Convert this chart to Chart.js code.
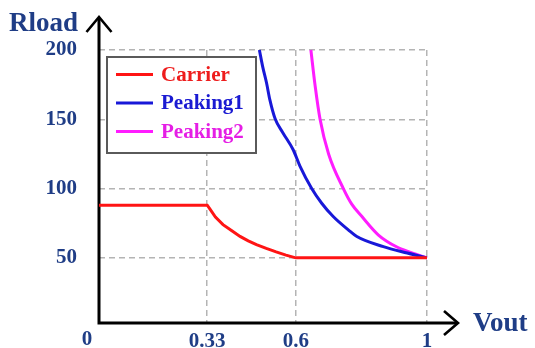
<!DOCTYPE html>
<html>
<head>
<meta charset="utf-8">
<script src="https://cdn.jsdelivr.net/npm/chart.js@4/dist/chart.umd.min.js"></script>
<style>
  html, body { margin: 0; padding: 0; background: #ffffff; overflow: hidden; }
  #wrap { width: 535px; height: 348px; }
</style>
</head>
<body>
<div id="wrap"><canvas id="c" width="535" height="348"></canvas></div>
<script>
// Normalized output voltage ticks and load resistance ticks
const xTicks = [0.33, 0.6, 1];
const yTicks = [50, 100, 150, 200];

// Carrier load trajectory
const carrierX = [0, 0.33, 0.34, 0.355, 0.378, 0.405, 0.43, 0.455, 0.48, 0.51, 0.54, 0.57, 0.6, 1];
const carrierY = [88, 88, 84.6, 79.5, 74, 69.5, 65.5, 62.3, 59.5, 56.8, 54.3, 52, 50, 50];

// Peaking amplifier 1 load trajectory
const peaking1X = [0.489, 0.499, 0.511, 0.521, 0.537, 0.56, 0.592, 0.613, 0.648, 0.679, 0.714, 0.76, 0.786, 0.867, 0.94, 1];
const peaking1Y = [200, 188, 176, 164, 150.4, 140.5, 128, 116, 100.2, 89.4, 79.8, 70.2, 65.4, 58.1, 53.5, 50];

// Peaking amplifier 2 load trajectory
const peaking2X = [0.646, 0.659, 0.674, 0.70, 0.745, 0.77, 0.801, 0.852, 0.907, 0.95, 1];
const peaking2Y = [200, 174, 150, 125, 100, 89, 80, 66.5, 58, 54, 50];

const seriesNames = ['Carrier', 'Peaking1', 'Peaking2'];
const lineColors = ['#ff1414', '#1818d8', '#ff1cff'];
const textColors = ['#ee1c1c', '#1a1ad2', '#e51ee5'];

const NAVY = '#1f3d86';
const SERIF = '"Liberation Serif", "Times New Roman", serif';

const toPts = (xs, ys) => xs.map((x, i) => ({ x: x, y: ys[i] }));

// Axes with arrowheads, axis titles, the origin label and the framed legend
const decorations = {
  id: 'decorations',
  beforeDatasetsDraw(chart) {
    const { ctx, scales: { x, y } } = chart;
    const x0 = x.getPixelForValue(0);
    const y0 = y.bottom;
    ctx.save();
    ctx.strokeStyle = '#000000';
    ctx.lineWidth = 3;
    ctx.lineCap = 'butt';
    ctx.beginPath();
    ctx.moveTo(x0, y0 + 1.5);
    ctx.lineTo(x0, 18);
    ctx.moveTo(x0 - 1.5, y0);
    ctx.lineTo(456, y0);
    ctx.stroke();
    // arrowheads
    ctx.lineWidth = 2.6;
    ctx.lineJoin = 'miter';
    ctx.beginPath();
    ctx.moveTo(x0 - 12.5, 32);
    ctx.lineTo(x0, 17);
    ctx.lineTo(x0 + 12.5, 32);
    ctx.moveTo(444, y0 - 12);
    ctx.lineTo(458, y0);
    ctx.lineTo(444, y0 + 12);
    ctx.stroke();
    ctx.restore();
  },
  afterDraw(chart) {
    const { ctx, scales: { x } } = chart;
    ctx.save();
    ctx.fillStyle = NAVY;
    ctx.textBaseline = 'middle';
    ctx.font = 'bold 27px ' + SERIF;
    ctx.textAlign = 'left';
    ctx.fillText('Rload', 9, 24);
    ctx.fillText('Vout', 473, 324);
    ctx.font = 'bold 21px ' + SERIF;
    ctx.textAlign = 'center';
    ctx.fillText('0', x.getPixelForValue(0) - 12, 340);

    // legend frame inside the plot
    const bx = 107, by = 57, bw = 149, bh = 96;
    ctx.fillStyle = '#ffffff';
    ctx.fillRect(bx, by, bw, bh);
    ctx.strokeStyle = '#5a5a5a';
    ctx.lineWidth = 2;
    ctx.strokeRect(bx, by, bw, bh);
    const rows = [74.5, 103, 131.5];
    chart.data.datasets.forEach((ds, i) => {
      ctx.strokeStyle = ds.borderColor;
      ctx.lineWidth = 3;
      ctx.beginPath();
      ctx.moveTo(116, rows[i]);
      ctx.lineTo(153, rows[i]);
      ctx.stroke();
      ctx.fillStyle = textColors[i];
      ctx.font = 'bold 21px ' + SERIF;
      ctx.textAlign = 'left';
      ctx.fillText(ds.label, 161, rows[i] + 1);
    });
    ctx.restore();
  }
};

const mkSet = (i, xs, ys, mode) => ({
  label: seriesNames[i],
  data: toPts(xs, ys),
  borderColor: lineColors[i],
  backgroundColor: lineColors[i],
  borderWidth: 3,
  pointRadius: 0,
  tension: mode ? 0.4 : 0,
  cubicInterpolationMode: mode || 'default',
  clip: 4,
  fill: false
});

new Chart(document.getElementById('c'), {
  type: 'line',
  data: {
    datasets: [
      mkSet(0, carrierX, carrierY, null),
      mkSet(1, peaking1X, peaking1Y, 'monotone'),
      mkSet(2, peaking2X, peaking2Y, 'monotone')
    ]
  },
  options: {
    responsive: false,
    devicePixelRatio: 1,
    animation: false,
    layout: { padding: { top: 50, right: 108, left: 0, bottom: 0 } },
    plugins: {
      legend: { display: false },
      tooltip: { enabled: false },
      title: { display: false }
    },
    scales: {
      x: {
        type: 'linear',
        min: 0,
        max: 1,
        afterBuildTicks: (s) => { s.ticks = xTicks.map(v => ({ value: v })); },
        afterFit: (s) => { s.height = 25; s.paddingLeft = 0; s.paddingRight = 0; },
        grid: { color: '#b4b4b4', lineWidth: 1.5, drawTicks: false },
        border: { display: false, dash: [6, 4] },
        ticks: {
          color: NAVY,
          padding: 6,
          maxRotation: 0,
          autoSkip: false,
          font: { family: SERIF, size: 21, weight: 'bold' },
          callback: (v) => String(v)
        }
      },
      y: {
        type: 'linear',
        min: 3,
        max: 200,
        afterBuildTicks: (s) => { s.ticks = yTicks.map(v => ({ value: v })); },
        afterFit: (s) => { s.width = 99; s.paddingTop = 0; s.paddingBottom = 0; },
        grid: { color: '#b4b4b4', lineWidth: 1.5, drawTicks: false },
        border: { display: false, dash: [6, 4] },
        ticks: {
          color: NAVY,
          padding: 22,
          autoSkip: false,
          font: { family: SERIF, size: 21, weight: 'bold' },
          callback: (v) => String(v)
        }
      }
    }
  },
  plugins: [decorations]
});
</script>
</body>
</html>
